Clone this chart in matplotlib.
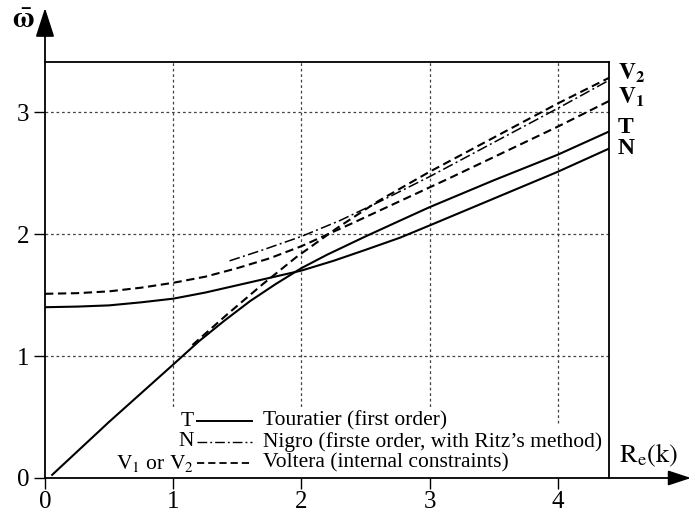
import matplotlib
matplotlib.use('Agg')
import matplotlib.pyplot as plt
from matplotlib.patches import Rectangle

plt.rcParams['font.family'] = ['Liberation Serif', 'DejaVu Serif']
plt.rcParams['mathtext.fontset'] = 'stix'

# ---------------- data ----------------
# Touratier, solid: branch starting at the origin
t_low_x = [0.05, 0.5, 1.0, 1.2, 1.4, 1.6, 1.8, 2.0, 2.2, 2.5, 2.77, 3.0, 3.5, 4.0, 4.4]
t_low_y = [0.02, 0.46, 0.93, 1.12, 1.29, 1.45, 1.59, 1.72, 1.83, 1.98, 2.11, 2.22, 2.44, 2.65, 2.84]
# Touratier, solid: branch starting at 1.40
t_up_x = [0.0, 0.25, 0.5, 0.75, 1.0, 1.25, 1.5, 1.75, 2.0, 2.25, 2.5, 2.77, 3.0, 3.5, 4.0, 4.4]
t_up_y = [1.40, 1.405, 1.415, 1.44, 1.47, 1.52, 1.58, 1.64, 1.70, 1.78, 1.87, 1.97, 2.07, 2.29, 2.51, 2.70]
# Voltera, dashed: steep branch (ends at V2)
v_low_x = [1.15, 1.42, 1.7, 1.96, 2.28, 2.6, 3.0, 3.5, 4.0, 4.4]
v_low_y = [1.09, 1.34, 1.59, 1.81, 2.05, 2.27, 2.51, 2.79, 3.07, 3.28]
# Voltera, dashed: branch starting at 1.51 (ends at V1)
v_up_x = [0.0, 0.25, 0.5, 0.75, 1.0, 1.25, 1.5, 1.75, 2.0, 2.38, 2.77, 3.16, 3.5, 4.0, 4.4]
v_up_y = [1.51, 1.515, 1.53, 1.56, 1.60, 1.65, 1.72, 1.80, 1.90, 2.08, 2.27, 2.46, 2.63, 2.88, 3.09]
# Nigro, dash-dot
n_x = [1.44, 1.7, 2.0, 2.3, 2.6, 3.0, 3.5, 4.0, 4.4]
n_y = [1.78, 1.87, 1.98, 2.11, 2.26, 2.47, 2.75, 3.03, 3.26]

x_ticks = [0, 1, 2, 3, 4]
y_ticks = [0, 1, 2, 3]
end_labels = [r'$\mathbf{V}_\mathbf{2}$', r'$\mathbf{V}_\mathbf{1}$', 'T', 'N']
end_label_y = [3.32, 3.12, 2.87, 2.70]
legend_keys = ['T', 'N', r'$\mathrm{V}_1$ or $\mathrm{V}_2$']
legend_texts = ['Touratier (first order)',
                'Nigro (firste order, with Ritz\u2019s method)',
                'Voltera (internal constraints)']

# ---------------- figure ----------------
W, H = 691, 517
fig = plt.figure(figsize=(W / 100, H / 100), dpi=100)
L, R, T, B = 45, 609, 62, 478
ax = fig.add_axes([L / W, 1 - B / H, (R - L) / W, (B - T) / H])
ax.set_xlim(0, 4.4)
ax.set_ylim(0, 3.41)

# grid
gstyle = dict(color='#444444', lw=0.9, linestyle=(0, (2.2, 2.2)), zorder=0.5)
for xv in x_ticks[1:]:
    ax.axvline(xv, **gstyle)
for yv in y_ticks[1:]:
    ax.axhline(yv, **gstyle)

# white area behind legend
ax.add_patch(Rectangle((115 / 564, 0), 335 / 564, (478 - 407) / 416,
                       transform=ax.transAxes, facecolor='white', edgecolor='none', zorder=1))
ax.add_patch(Rectangle((70 / 564, 0), 485 / 564, (478 - 424) / 416,
                       transform=ax.transAxes, facecolor='white', edgecolor='none', zorder=1))

lw = 1.5
dash = (0, (4, 2.2))
dashdot = (0, (7, 2.2, 1.3, 2.2))
ax.plot(t_low_x, t_low_y, color='black', lw=lw, zorder=3, solid_capstyle='butt')
ax.plot(t_up_x, t_up_y, color='black', lw=lw, zorder=3, solid_capstyle='butt')
ax.plot(v_low_x, v_low_y, color='black', lw=lw, linestyle=dash, zorder=3)
ax.plot(v_up_x, v_up_y, color='black', lw=lw, linestyle=dash, zorder=3)
ax.plot(n_x, n_y, color='black', lw=1.1, linestyle=dashdot, zorder=3)

# spines / axes arrows
for s in ['left', 'bottom']:
    ax.spines[s].set_visible(False)
for s in ['top', 'right']:
    ax.spines[s].set_linewidth(1.3)
ax.annotate('', xy=(0, (B - 8) / 416), xytext=(0, 0), xycoords='axes fraction',
            arrowprops=dict(arrowstyle='-|>,head_length=1.8,head_width=0.58', lw=1.3,
                            color='black', shrinkA=0, shrinkB=0), annotation_clip=False)
ax.annotate('', xy=((691 - L) / 564, 0), xytext=(0, 0), xycoords='axes fraction',
            arrowprops=dict(arrowstyle='-|>,head_length=1.4,head_width=0.46', lw=1.3,
                            color='black', shrinkA=0, shrinkB=0), annotation_clip=False)

ax.set_xticks(x_ticks)
ax.set_yticks(y_ticks)
ax.tick_params(direction='out', length=8, width=1.0, labelsize=18)
ax.tick_params(axis='x', pad=1)
ax.tick_params(axis='y', pad=3)

# axis labels
fig.text(23 / W, 1 - 21 / H, r'$\bar{\mathbf{\omega}}$', fontsize=21, ha='center', va='center')
fig.text(648 / W, 1 - 455 / H, r'$\mathrm{R_e(k)}$', fontsize=19, ha='center', va='center')

# end-of-curve labels
for lab, yy in zip(end_labels, end_label_y):
    ax.text(4.47, yy, lab, fontsize=17, fontweight='bold', ha='left', va='center',
            clip_on=False)

# legend (manual)
row_y = [421, 442, 463]
for key, txt, py, ls, lwl in zip(legend_keys, legend_texts, row_y,
                                 ['-', dashdot, dash], [1.4, 1.0, 1.3]):
    fy = (B - py) / 416
    ax.text((194 - L) / 564, fy, key, fontsize=15.5, ha='right', va='center',
            transform=ax.transAxes, zorder=4)
    ax.plot([(197 - L) / 564, (252 - L) / 564], [fy, fy], transform=ax.transAxes,
            color='black', lw=lwl, linestyle=ls, zorder=4, clip_on=False)
    ax.text((263 - L) / 564, fy, txt, fontsize=15.5, ha='left', va='center',
            transform=ax.transAxes, zorder=4)

fig.savefig('out.png', dpi=100)
